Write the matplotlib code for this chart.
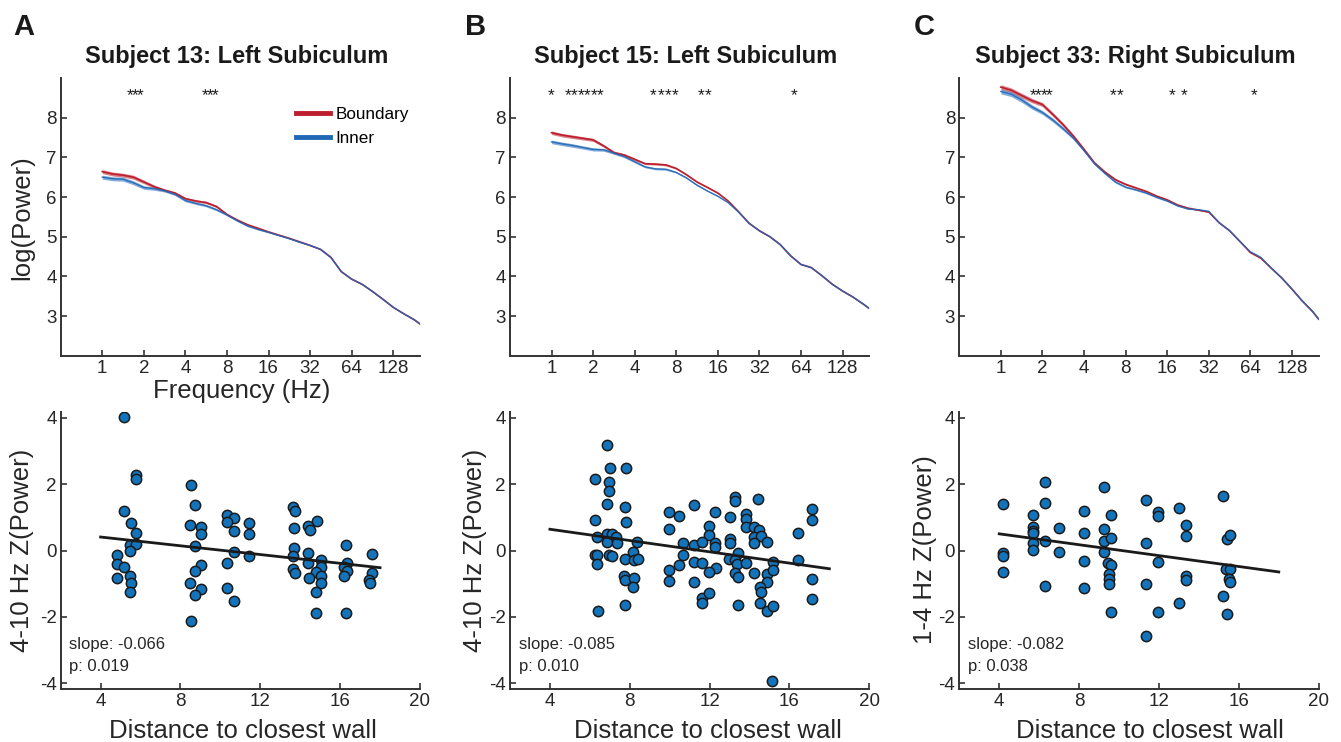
import matplotlib.pyplot as plt
from matplotlib.lines import Line2D
import numpy as np

plt.rcParams['font.family'] = ['Liberation Sans', 'DejaVu Sans']
plt.rcParams['axes.unicode_minus'] = False

# ---- spectra ----
freqs = [1, 1.19, 1.41, 1.68, 2, 2.38, 2.83, 3.36, 4, 4.76, 5.66, 6.73, 8, 9.51,
         11.3, 13.5, 16, 19, 22.6, 26.9, 32, 38.1, 45.3, 53.8, 64, 76.1, 90.5,
         108, 128, 152, 181, 200]

bound_a = [6.64, 6.58, 6.55, 6.50, 6.38, 6.26, 6.17, 6.10, 5.96, 5.90, 5.86, 5.76,
           5.56, 5.42, 5.30, 5.21, 5.12, 5.04, 4.96, 4.87, 4.78, 4.68, 4.48, 4.12,
           3.93, 3.80, 3.62, 3.42, 3.22, 3.06, 2.91, 2.80]
inner_a = [6.50, 6.46, 6.45, 6.36, 6.24, 6.21, 6.16, 6.07, 5.91, 5.84, 5.78, 5.68,
           5.55, 5.40, 5.27, 5.18, 5.11, 5.03, 4.95, 4.86, 4.78, 4.68, 4.47, 4.12,
           3.93, 3.80, 3.62, 3.42, 3.22, 3.06, 2.91, 2.80]
sem_a = [0.05, 0.05, 0.05, 0.05, 0.045, 0.04, 0.035, 0.035, 0.03, 0.03, 0.03, 0.03,
         0.025, 0.02, 0.02, 0.015, 0.015, 0.01, 0.01, 0.01, 0.01, 0.01, 0.008, 0.008,
         0.008, 0.006, 0.006, 0.006, 0.005, 0.005, 0.005, 0.005]

bound_b = [7.62, 7.56, 7.52, 7.48, 7.44, 7.29, 7.12, 7.06, 6.95, 6.84, 6.83, 6.81,
           6.72, 6.56, 6.38, 6.24, 6.10, 5.90, 5.63, 5.34, 5.15, 5.00, 4.80, 4.52,
           4.30, 4.22, 4.02, 3.80, 3.63, 3.48, 3.30, 3.19]
inner_b = [7.39, 7.34, 7.30, 7.25, 7.20, 7.19, 7.11, 7.02, 6.89, 6.76, 6.71, 6.70,
           6.62, 6.48, 6.30, 6.15, 6.02, 5.86, 5.62, 5.34, 5.15, 5.00, 4.80, 4.52,
           4.30, 4.22, 4.02, 3.80, 3.63, 3.48, 3.30, 3.19]
sem_b = [0.045, 0.045, 0.045, 0.04, 0.04, 0.035, 0.035, 0.03, 0.03, 0.025, 0.025, 0.025,
         0.02, 0.02, 0.02, 0.015, 0.015, 0.012, 0.01, 0.01, 0.01, 0.008, 0.008, 0.008,
         0.006, 0.006, 0.006, 0.005, 0.005, 0.005, 0.005, 0.005]

bound_c = [8.77, 8.69, 8.56, 8.43, 8.33, 8.08, 7.82, 7.53, 7.20, 6.86, 6.63, 6.44,
           6.32, 6.23, 6.14, 6.02, 5.93, 5.80, 5.72, 5.67, 5.62, 5.35, 5.15, 4.88,
           4.60, 4.46, 4.21, 3.96, 3.68, 3.38, 3.11, 2.92]
inner_c = [8.66, 8.59, 8.45, 8.27, 8.13, 7.94, 7.72, 7.48, 7.17, 6.84, 6.60, 6.38,
           6.25, 6.18, 6.10, 5.99, 5.90, 5.78, 5.70, 5.68, 5.64, 5.35, 5.15, 4.88,
           4.62, 4.48, 4.21, 3.96, 3.68, 3.38, 3.11, 2.92]
sem_c = [0.06, 0.06, 0.06, 0.055, 0.05, 0.05, 0.045, 0.04, 0.035, 0.03, 0.03, 0.025,
         0.025, 0.02, 0.02, 0.02, 0.015, 0.015, 0.012, 0.012, 0.01, 0.01, 0.008, 0.008,
         0.008, 0.006, 0.006, 0.005, 0.005, 0.005, 0.005, 0.005]

# frequencies marked with a significance star
stars_a = [1.59, 1.73, 1.88, 5.54, 6.02, 6.59]
stars_b = [1.0, 1.31, 1.46, 1.63, 1.81, 2.02, 2.25, 5.47, 6.18, 6.98, 7.89, 12.2, 13.6, 56.9]
stars_c = [1.71, 1.87, 2.04, 2.23, 6.46, 7.24, 17.4, 21.2, 68]

titles = ['Subject 13: Left Subiculum', 'Subject 15: Left Subiculum',
          'Subject 33: Right Subiculum']
freq_ticks = [1, 2, 4, 8, 16, 32, 64, 128]

# ---- power vs distance to wall ----
dist_a = [5.17, 5.76, 5.76, 5.17, 5.50, 5.79, 5.47, 5.76, 5.47, 4.80, 4.80, 5.17, 5.47,
          4.80, 5.50, 5.47,
          8.51, 8.72, 8.48, 9.02, 9.02, 8.72, 9.05, 8.72, 8.48, 9.02, 8.72, 8.51,
          10.32, 10.69, 10.32, 11.41, 10.69, 11.41, 10.69, 11.41, 10.32, 10.32, 10.69,
          13.65, 13.73, 13.70, 13.70, 13.65, 13.62, 13.73, 14.82, 14.40, 14.48, 14.40,
          14.40, 15.04, 15.04, 14.79, 15.04, 14.45, 15.04, 14.79, 14.79,
          16.31, 16.34, 16.17, 16.34, 16.17, 16.31,
          17.58, 17.58, 17.46, 17.49]
z_a = [4.01, 2.27, 2.14, 1.19, 0.84, 0.54, 0.17, 0.20, 0.00, -0.14, -0.41, -0.49, -0.77,
       -0.84, -0.99, -1.24,
       1.98, 1.37, 0.77, 0.71, 0.50, 0.15, -0.44, -0.61, -0.99, -1.17, -1.33, -2.11,
       1.07, 0.97, 0.87, 0.82, 0.60, 0.50, -0.06, -0.16, -0.39, -1.14, -1.51,
       1.32, 1.20, 0.67, 0.07, -0.17, -0.57, -0.67, 0.90, 0.75, 0.62, -0.09,
       -0.37, -0.29, -0.49, -0.64, -0.76, -0.84, -0.97, -1.24, -1.88,
       0.17, -0.37, -0.49, -0.61, -0.77, -1.89,
       -0.11, -0.67, -0.89, -0.99]

dist_b = [6.84, 7.01, 7.81, 6.27, 6.98, 6.98, 6.84, 7.78, 6.27, 7.81, 6.37, 6.84, 6.84,
          7.11, 7.31, 7.34, 8.38, 6.27, 6.37, 6.98, 7.11, 6.37, 7.78, 8.18, 8.21, 8.41,
          7.73, 7.78, 8.21, 8.18, 6.41, 7.76,
          9.99, 10.45, 9.99, 11.22, 12.29, 11.99, 11.99, 10.66, 11.22, 11.63, 12.29, 12.29,
          10.66, 11.22, 11.63, 10.45, 12.33, 9.99, 11.99, 9.99, 11.22, 11.63, 11.99, 11.63,
          13.26, 13.26, 14.40, 13.00, 13.83, 13.83, 13.83, 14.23, 14.47, 14.20, 14.57,
          13.00, 13.00, 14.23, 14.90, 13.41, 12.95, 13.26, 13.36, 13.83, 15.17, 13.28,
          14.23, 13.41, 14.87, 15.20, 14.87, 14.54, 14.57, 13.40, 14.54, 14.90, 15.17, 15.14,
          16.41, 16.41, 17.13, 17.13, 17.13, 17.13]
z_b = [3.17, 2.48, 2.48, 2.14, 2.05, 1.78, 1.39, 1.32, 0.91, 0.85, 0.42, 0.50, 0.27,
       0.50, 0.40, 0.24, 0.27, -0.13, -0.15, -0.13, -0.18, -0.40, -0.25, -0.05, -0.30, -0.25,
       -0.76, -0.89, -0.83, -1.11, -1.81, -1.65,
       1.15, 1.03, 0.66, 1.36, 1.15, 0.74, 0.47, 0.22, 0.17, 0.27, 0.24, 0.12,
       -0.15, -0.34, -0.38, -0.45, -0.54, -0.60, -0.66, -0.93, -0.95, -1.43, -1.29, -1.57,
       1.61, 1.48, 1.56, 1.01, 1.10, 0.95, 0.72, 0.72, 0.62, 0.42, 0.44,
       0.34, 0.22, 0.24, 0.25, -0.08, -0.25, -0.28, -0.41, -0.38, -0.36, -0.68,
       -0.68, -0.80, -0.70, -0.58, -0.95, -1.11, -1.26, -1.65, -1.59, -1.81, -1.67, -3.93,
       0.54, -0.28, 1.25, 0.91, -0.85, -1.46]

dist_c = [4.17, 4.17, 4.17, 4.17, 5.71, 5.71, 5.71, 5.71, 5.71, 5.71, 6.31, 6.31, 6.31,
          6.31, 6.98, 6.98, 8.27, 8.27, 8.27, 8.27, 9.26, 9.26, 9.23, 9.23, 9.60, 9.60,
          9.43, 9.60, 9.48, 9.48, 9.48, 9.60, 11.35, 11.35, 11.35, 11.35, 11.94, 11.94,
          11.94, 11.94, 13.01, 13.01, 13.35, 13.35, 13.35, 13.35, 15.21, 15.39, 15.54,
          15.34, 15.54, 15.51, 15.54, 15.21, 15.39]
z_c = [1.40, -0.07, -0.17, -0.65, 1.06, 0.72, 0.60, 0.52, 0.24, 0.02, 2.05, 1.42, 0.28,
       -1.07, 0.68, -0.04, 1.19, 0.52, -0.32, -1.12, 1.91, 0.66, 0.30, -0.04, 1.08, 0.37,
       -0.37, -0.45, -0.71, -0.87, -1.01, -1.84, 1.52, 0.22, -1.00, -2.56, 1.17, 1.04,
       -0.35, -1.84, 1.28, -1.57, 0.77, 0.44, -0.77, -0.89, 1.64, 0.34, 0.46,
       -0.55, -0.57, -0.85, -0.95, -1.37, -1.92]

slopes = [-0.066, -0.085, -0.082]
intercepts = [0.67, 0.98, 0.83]
pvals = ['0.019', '0.010', '0.038']
fit_range = [4, 18]
ylabels_bottom = ['4-10 Hz Z(Power)', '4-10 Hz Z(Power)', '1-4 Hz Z(Power)']

RED = '#bd1e2d'
BLUE = '#1f68b8'
DOT = '#1374bb'
AXC = '#333333'

W, H = 1341, 742
fig = plt.figure(figsize=(W / 100, H / 100), dpi=100)


def px_axes(left, top, right, bottom):
    # axes from pixel box
    return fig.add_axes([left / W, 1 - bottom / H, (right - left) / W, (bottom - top) / H])


def style_axes(ax):
    for s in ['top', 'right']:
        ax.spines[s].set_visible(False)
    for s in ['left', 'bottom']:
        ax.spines[s].set_linewidth(1.4)
        ax.spines[s].set_color(AXC)
    ax.tick_params(direction='in', length=4, width=1.2, color=AXC,
                   labelcolor='#262626', labelsize=13.5, pad=3)


lefts = [60.7, 510, 959.3]
rights = [420, 869.3, 1318.7]
spectra = [(bound_a, inner_a, sem_a, stars_a),
           (bound_b, inner_b, sem_b, stars_b),
           (bound_c, inner_c, sem_c, stars_c)]
scatters = [(dist_a, z_a), (dist_b, z_b), (dist_c, z_c)]
title_x = [237, 686, 1135]
letter_x = [13, 465, 914]
ylab_x = [22, 475, 925]
xlab_x = [243, 708, 1150]

for i in range(3):
    bnd, inn, sem, stars = [np.array(v) for v in spectra[i]]
    ax = px_axes(lefts[i], 78, rights[i], 355.7)
    style_axes(ax)
    ax.set_xscale('log', base=2)
    ax.fill_between(freqs, bnd - sem, bnd + sem, color=RED, alpha=0.55, lw=0)
    ax.plot(freqs, bnd, color=RED, lw=1.2)
    ax.fill_between(freqs, inn - sem, inn + sem, color=BLUE, alpha=0.55, lw=0)
    ax.plot(freqs, inn, color=BLUE, lw=1.0, alpha=0.9)
    for f in stars:
        ax.text(f, 8.45, '*', ha='center', va='baseline', fontsize=12.5, color='#1a1a1a')
    ax.set_xlim(0.5, 200)
    ax.set_ylim(2, 9)
    ax.set_xticks(freq_ticks)
    ax.set_xticklabels([str(t) for t in freq_ticks])
    ax.minorticks_off()
    ax.set_yticks([3, 4, 5, 6, 7, 8])
    fig.text(title_x[i] / W, 1 - 63 / H, titles[i], ha='center', va='baseline',
             fontsize=17, fontweight='bold', color='#1a1a1a')
    fig.text(letter_x[i] / W, 1 - 35 / H, 'ABC'[i], ha='left', va='baseline',
             fontsize=21, fontweight='bold', color='#1a1a1a')
    if i == 0:
        handles = [Line2D([], [], color=RED, lw=3.5), Line2D([], [], color=BLUE, lw=3.5)]
        ax.legend(handles, ['Boundary', 'Inner'], loc='upper left',
                  bbox_to_anchor=(0.654, 0.895), frameon=False, fontsize=12.3,
                  handlelength=2.0, handletextpad=0.35, labelspacing=0.5,
                  borderpad=0, borderaxespad=0)
        fig.text(22 / W, 1 - 218 / H, 'log(Power)', rotation=90, ha='center',
                 va='center', fontsize=18.5, color='#262626')
        fig.text(242 / W, 1 - 398 / H, 'Frequency (Hz)', ha='center', va='baseline',
                 fontsize=18.5, color='#262626')

    # distance scatter
    dist, z = scatters[i]
    bx = px_axes(lefts[i], 411.7, rights[i], 689.3)
    style_axes(bx)
    bx.scatter(dist, z, s=55, c=DOT, edgecolors='#1a1a1a', linewidths=1.1, zorder=3)
    fx = np.array(fit_range)
    bx.plot(fx, intercepts[i] + slopes[i] * fx, color='#1a1a1a', lw=2.0, zorder=4)
    bx.set_xlim(2, 20)
    bx.set_ylim(-4.18, 4.18)
    bx.set_xticks([4, 8, 12, 16, 20])
    bx.set_yticks([-4, -2, 0, 2, 4])
    bx.text(0.024, 0.144, 'slope: %.3f' % slopes[i], transform=bx.transAxes,
            fontsize=12, color='#262626', va='baseline')
    bx.text(0.024, 0.067, 'p: ' + pvals[i], transform=bx.transAxes,
            fontsize=12, color='#262626', va='baseline')
    fig.text(ylab_x[i] / W, 1 - 550 / H, ylabels_bottom[i], rotation=90, ha='center',
             va='center', fontsize=18.5, color='#262626')
    fig.text(xlab_x[i] / W, 1 - 738 / H, 'Distance to closest wall', ha='center',
             va='baseline', fontsize=18.5, color='#262626')

fig.savefig('out.png', dpi=100)
